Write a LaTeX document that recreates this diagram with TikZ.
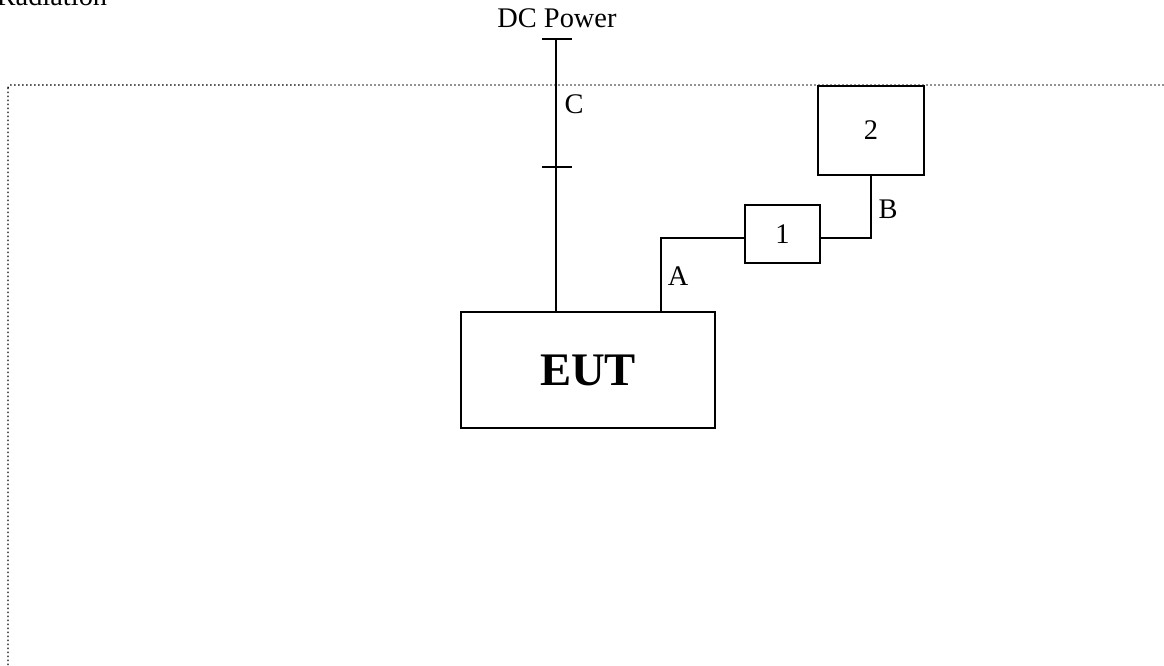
\documentclass[tikz,border=0pt]{standalone}
\usepackage{fontspec}
\setmainfont{Liberation Serif}
\usetikzlibrary{positioning,calc}

\begin{document}
\begin{tikzpicture}[
  x=0.75pt, y=-0.75pt,
  line width=1.3pt,
  unit/.style={rectangle, draw, line width=1.3pt, inner sep=0pt, font=\fontsize{21.3}{25}\selectfont},
  lab/.style={font=\fontsize{21.3}{25}\selectfont, inner sep=0pt},
  endmark/.style={line width=1.3pt},
]
\clip (0,0) rectangle (1164,665);
% test area
\draw[dotted, line width=1pt, rounded corners=2pt] (8,85) rectangle (1200,720);
\node[lab, anchor=base east] (rad) at (108,5) {Radiation};
% units
\node[unit, minimum width=190.5pt, minimum height=87pt, font=\fontsize{35}{40}\selectfont\bfseries] (eut) at (588,370) {EUT};
\node[unit, minimum width=56.25pt, minimum height=43.5pt] (one) at (782.5,234) {1};
\node[unit, minimum width=79.5pt, minimum height=66.75pt] (two) at (871,130.5) {2};
% DC power cable
\coordinate (dctop) at (556,39);
\coordinate (dcmid) at (556,167);
\draw (dctop) -- (dctop |- eut.north);
\draw[endmark] ($(dctop)+(-14,0)$) -- ($(dctop)+(16,0)$);
\draw[endmark] ($(dcmid)+(-14,0)$) -- ($(dcmid)+(16,0)$);
\node[lab, anchor=base] (dc) at ($(dctop)+(1,-12)$) {DC Power};
% cables
\draw ($(eut.north west)+(201,0)$) |- ($(one.west)+(0,4)$);
\draw ($(one.east)+(0,4)$) -| (two.south);
\node[lab] (ca) at (678,276) {A};
\node[lab] (cb) at (888,209) {B};
\node[lab] (cc) at (574,104) {C};
\end{tikzpicture}
\end{document}
